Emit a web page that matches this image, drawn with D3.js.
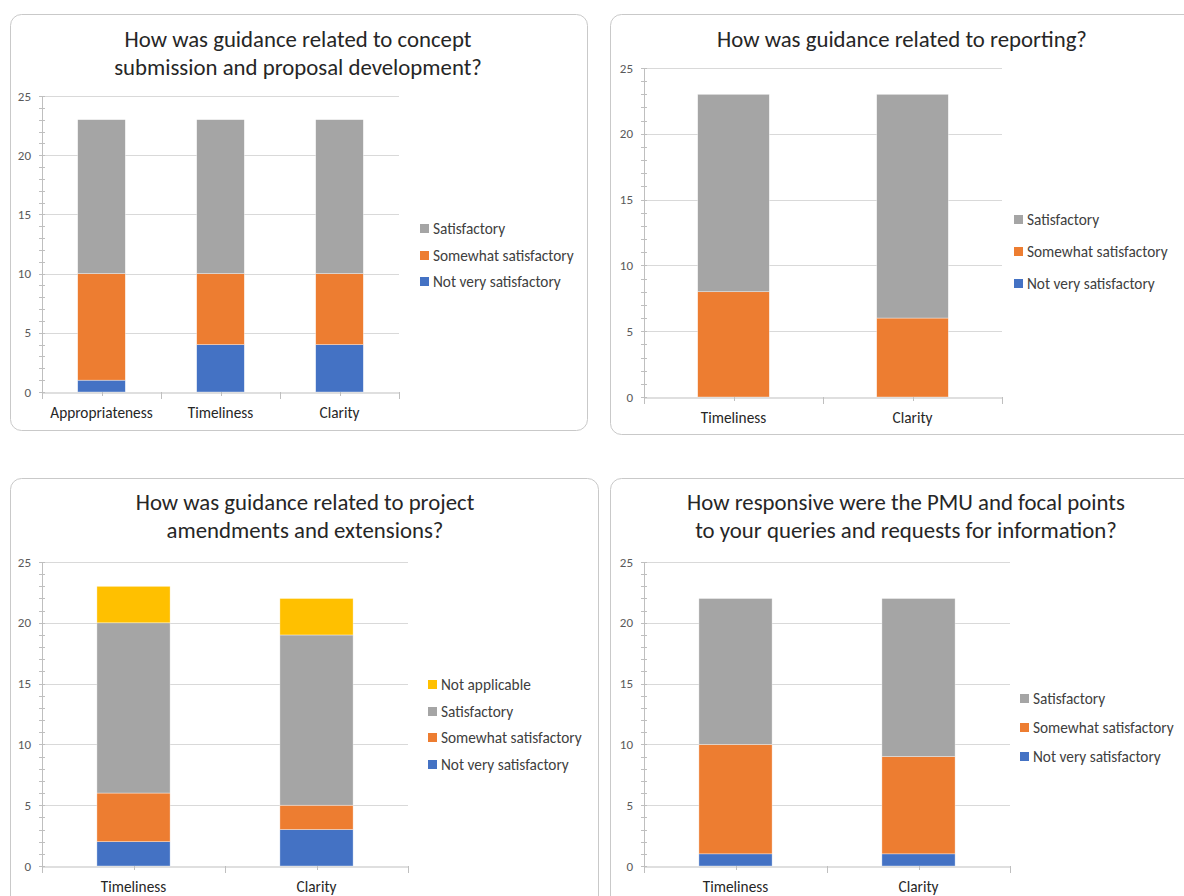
<!DOCTYPE html>
<html><head><meta charset="utf-8">
<script src="https://cdn.jsdelivr.net/npm/d3@7"></script>
<style>
html,body{margin:0;padding:0;background:#fff;}
svg{display:block;font-family:Carlito,Lato,"Open Sans",sans-serif;}
</style></head>
<body><svg id="c" width="1184" height="896"></svg>
<script>
// ---- Data ----
const seriesNames3 = ["Not very satisfactory","Somewhat satisfactory","Satisfactory"];
const seriesNames4 = ["Not very satisfactory","Somewhat satisfactory","Satisfactory","Not applicable"];
const colors = {"Not very satisfactory":"#4472C4","Somewhat satisfactory":"#ED7D31","Satisfactory":"#A5A5A5","Not applicable":"#FFC000"};
const yTicks = [0,5,10,15,20,25];

const title1 = ["How was guidance related to concept","submission and proposal development?"];
const cats1 = ["Appropriateness","Timeliness","Clarity"];
const notVery1 = [1,4,4];
const somewhat1 = [9,6,6];
const satisf1 = [13,13,13];

const title2 = ["How was guidance related to reporting?"];
const cats2 = ["Timeliness","Clarity"];
const notVery2 = [0,0];
const somewhat2 = [8,6];
const satisf2 = [15,17];

const title3 = ["How was guidance related to project","amendments and extensions?"];
const cats3 = ["Timeliness","Clarity"];
const notVery3 = [2,3];
const somewhat3 = [4,2];
const satisf3 = [14,14];
const notApp3 = [3,3];

const title4 = ["How responsive were the PMU and focal points","to your queries and requests for information?"];
const cats4 = ["Timeliness","Clarity"];
const notVery4 = [1,1];
const somewhat4 = [9,8];
const satisf4 = [12,13];

// ---- Layout ----
const svg = d3.select("#c");
const panels = [
  {box:[10,14,577,416], titleX:298, titleY:[47,75], plot:{x0:42,x1:399,y0:392,y1:96},
   legend:{x:420,ys:[229,256,282]}, title:title1, cats:cats1, series:seriesNames3,
   values:[notVery1,somewhat1,satisf1]},
  {box:[610,14,600,420], titleX:902, titleY:[47], plot:{x0:644,x1:1002,y0:397,y1:68},
   legend:{x:1014,ys:[220,252,284]}, title:title2, cats:cats2, series:seriesNames3,
   values:[notVery2,somewhat2,satisf2]},
  {box:[10,478,588,440], titleX:305, titleY:[510,538], plot:{x0:42,x1:408,y0:866,y1:562},
   legend:{x:428,ys:[685,712,738,765]}, title:title3, cats:cats3, series:seriesNames4,
   values:[notVery3,somewhat3,satisf3,notApp3]},
  {box:[610,478,600,440], titleX:906, titleY:[510,538], plot:{x0:644,x1:1010,y0:866,y1:562},
   legend:{x:1020,ys:[699,728,757]}, title:title4, cats:cats4, series:seriesNames3,
   values:[notVery4,somewhat4,satisf4]}
];

panels.forEach(p => {
  const g = svg.append("g");
  const [bx,by,bw,bh] = p.box;
  g.append("rect").attr("x",bx+0.5).attr("y",by+0.5).attr("width",bw).attr("height",bh)
    .attr("rx",11).attr("fill","#fff").attr("stroke","#c9c9c9").attr("stroke-width",1);

  p.title.forEach((t,i)=>{
    g.append("text").attr("x",p.titleX).attr("y",p.titleY[i]).attr("text-anchor","middle")
      .attr("font-size",22.8).attr("fill","#262626").text(t);
  });

  const x = d3.scaleBand().domain(p.cats).range([p.plot.x0,p.plot.x1]).paddingInner(0.6).paddingOuter(0.3);
  const xb = d3.scaleBand().domain(p.cats).range([p.plot.x0,p.plot.x1]);
  const y = d3.scaleLinear().domain([0,25]).range([p.plot.y0,p.plot.y1]);

  // gridlines
  g.append("g").selectAll("line").data(yTicks.filter(d=>d>0)).join("line")
    .attr("x1",p.plot.x0).attr("x2",p.plot.x1)
    .attr("y1",d=>Math.round(y(d))+0.5).attr("y2",d=>Math.round(y(d))+0.5)
    .attr("stroke","#d9d9d9").attr("stroke-width",1);

  // stacked bars
  const rows = p.cats.map((c,i)=>{const o={cat:c}; p.series.forEach((s,j)=>o[s]=p.values[j][i]); return o;});
  const stack = d3.stack().keys(p.series)(rows);
  stack.forEach(layer=>{
    g.append("g").selectAll("rect").data(layer).join("rect")
      .attr("x",d=>x(d.data.cat)).attr("width",x.bandwidth())
      .attr("y",d=>y(d[1])).attr("height",d=>Math.max(0,y(d[0])-y(d[1])))
      .attr("fill",colors[layer.key]).attr("stroke","#fff").attr("stroke-width",0.6)
      .attr("stroke-opacity",0.6);
  });

  // y axis
  const ya = d3.axisLeft(y).tickValues(yTicks).tickSize(0).tickPadding(11);
  const yg = g.append("g").attr("transform",`translate(${p.plot.x0},0)`).call(ya);
  yg.select(".domain").attr("stroke","#bfbfbf");
  yg.selectAll("text").attr("font-size",13).attr("fill","#595959").attr("font-family","Carlito,Lato,sans-serif");
  // minor ticks
  const minor = d3.range(0,26);
  g.append("g").selectAll("line").data(minor).join("line")
    .attr("x1",p.plot.x0-3).attr("x2",p.plot.x0+3)
    .attr("y1",d=>Math.round(y(d))+0.5).attr("y2",d=>Math.round(y(d))+0.5)
    .attr("stroke","#bfbfbf");

  // x axis
  const xa = d3.axisBottom(xb).tickSize(0).tickPadding(15);
  const xg = g.append("g").attr("transform",`translate(0,${Math.round(p.plot.y0)+0.5})`).call(xa);
  xg.select(".domain").attr("stroke","#bfbfbf");
  xg.selectAll("text").attr("font-size",15.3).attr("fill","#262626").attr("font-family","Carlito,Lato,sans-serif");
  // boundary ticks
  const bounds = p.cats.map(c=>xb(c)).concat([p.plot.x1]);
  g.append("g").selectAll("line").data(bounds).join("line")
    .attr("x1",d=>Math.round(d)+0.5).attr("x2",d=>Math.round(d)+0.5)
    .attr("y1",p.plot.y0).attr("y2",p.plot.y0+7).attr("stroke","#bfbfbf");
  g.append("g").selectAll("line").data(p.cats).join("line")
    .attr("x1",d=>Math.round(xb(d)+xb.bandwidth()/2)+0.5).attr("x2",d=>Math.round(xb(d)+xb.bandwidth()/2)+0.5)
    .attr("y1",p.plot.y0).attr("y2",p.plot.y0+4).attr("stroke","#bfbfbf");

  // legend (reverse order, top item is last series)
  const legItems = p.series.slice().reverse();
  legItems.forEach((s,i)=>{
    const ly = p.legend.ys[i];
    g.append("rect").attr("x",p.legend.x).attr("y",ly-5).attr("width",9).attr("height",9).attr("fill",colors[s]);
    g.append("text").attr("x",p.legend.x+13).attr("y",ly+5).attr("font-size",15.3)
      .attr("fill","#404040").text(s);
  });
});
</script></body></html>
